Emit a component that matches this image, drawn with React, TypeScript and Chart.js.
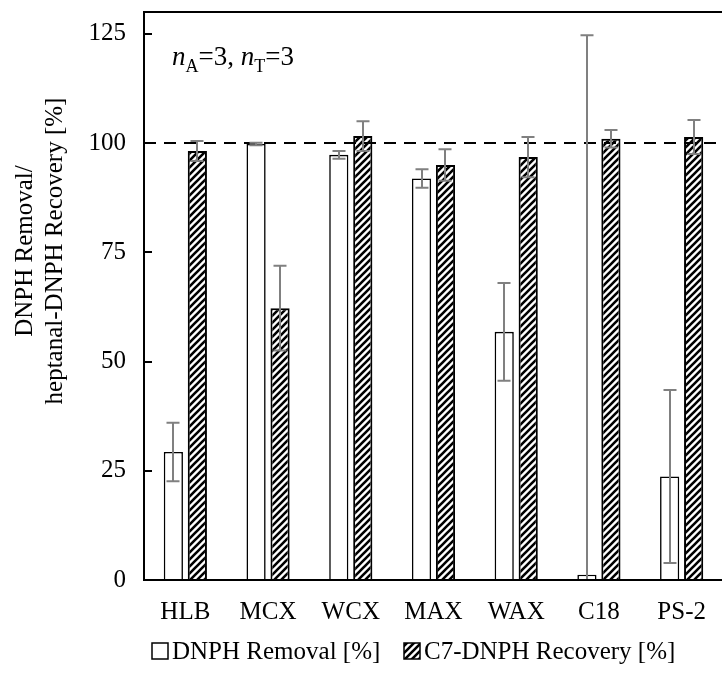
import React, { useEffect, useRef } from "react";
import { Chart, registerables } from "chart.js";

Chart.register(...registerables);

// Sorbent cartridges
const categories = ["HLB", "MCX", "WCX", "MAX", "WAX", "C18", "PS-2"];

// DNPH removal [%] (mean and standard deviation)
const dnphRemoval = [29.3, 99.8, 97.3, 91.9, 56.8, 1.2, 23.7];
const dnphRemovalSd = [6.7, 0.3, 0.9, 2.1, 11.2, 123.5, 19.8];

// heptanal-DNPH (C7-DNPH) recovery [%] (mean and standard deviation)
const c7Recovery = [98.2, 62.2, 101.6, 95.0, 96.8, 101.0, 101.4];
const c7RecoverySd = [2.3, 9.7, 3.4, 3.6, 4.6, 2.0, 3.9];

const yTicks = [0, 25, 50, 75, 100, 125];
const yMax = 130;
const referenceLevel = 100;

const seriesNames = ["DNPH Removal [%]", "C7-DNPH Recovery [%]"];
const yTitleLines = ["DNPH Removal/", "heptanal-DNPH Recovery [%]"];

const SERIF = "'Liberation Serif', 'Times New Roman', serif";
const FONT_SIZE = 25;
const CANVAS_W = 724;
const CANVAS_H = 695;
const PLOT_TOP = 12;
const PLOT_BOTTOM = 580;
const PLOT_LEFT = 144;

function makeHatch(): CanvasPattern | string {
  const size = 7;
  const c = document.createElement("canvas");
  c.width = size;
  c.height = size;
  const g = c.getContext("2d");
  if (!g) return "#000";
  g.fillStyle = "#fff";
  g.fillRect(0, 0, size, size);
  g.strokeStyle = "#000";
  g.lineWidth = 2.6;
  g.beginPath();
  g.moveTo(-1, size + 1);
  g.lineTo(size + 1, -1);
  g.moveTo(-2, 2);
  g.lineTo(2, -2);
  g.moveTo(size - 2, size + 2);
  g.lineTo(size + 2, size - 2);
  g.stroke();
  return g.createPattern(c, "repeat") || "#000";
}

// "nA=3, nT=3" with italic n and subscript letters
function drawAnnotation(ctx: CanvasRenderingContext2D, x: number, y: number) {
  const main = `27px ${SERIF}`;
  const ital = `italic 27px ${SERIF}`;
  const sub = `18px ${SERIF}`;
  const parts: [string, string, number][] = [
    [ital, "n", 0],
    [sub, "A", 7],
    [main, "=3, ", 0],
    [ital, "n", 0],
    [sub, "T", 7],
    [main, "=3", 0],
  ];
  ctx.save();
  ctx.fillStyle = "#000";
  ctx.textBaseline = "alphabetic";
  ctx.textAlign = "left";
  let cx = x;
  for (const [font, text, dy] of parts) {
    ctx.font = font;
    ctx.fillText(text, cx, y + dy);
    cx += ctx.measureText(text).width;
  }
  ctx.restore();
}

const decorPlugin = {
  id: "decor",
  afterDatasetsDraw(chart: any) {
    const { ctx, chartArea: a, scales } = chart;
    const y = scales.y;

    // dashed reference line at 100 %
    ctx.save();
    ctx.strokeStyle = "#000";
    ctx.lineWidth = 2;
    ctx.setLineDash([12, 8]);
    const yRef = y.getPixelForValue(referenceLevel);
    ctx.beginPath();
    ctx.moveTo(a.left, yRef);
    ctx.lineTo(a.right, yRef);
    ctx.stroke();
    ctx.restore();

    // error bars (clipped to the plot area)
    const errors = [dnphRemovalSd, c7RecoverySd];
    const means = [dnphRemoval, c7Recovery];
    ctx.save();
    ctx.beginPath();
    ctx.rect(a.left, a.top, a.right - a.left, a.bottom - a.top);
    ctx.clip();
    ctx.strokeStyle = "#808080";
    ctx.lineWidth = 2;
    const cap = 6.5;
    for (let d = 0; d < 2; d++) {
      const meta = chart.getDatasetMeta(d);
      meta.data.forEach((bar: any, i: number) => {
        const hi = y.getPixelForValue(means[d][i] + errors[d][i]);
        const lo = y.getPixelForValue(means[d][i] - errors[d][i]);
        const x = Math.round(bar.x);
        ctx.beginPath();
        ctx.moveTo(x, hi);
        ctx.lineTo(x, lo);
        ctx.moveTo(x - cap, hi);
        ctx.lineTo(x + cap, hi);
        ctx.moveTo(x - cap, lo);
        ctx.lineTo(x + cap, lo);
        ctx.stroke();
      });
    }
    ctx.restore();

    // plot frame and inward tick marks
    ctx.save();
    ctx.strokeStyle = "#000";
    ctx.lineWidth = 2;
    ctx.strokeRect(a.left, a.top, a.right - a.left, a.bottom - a.top);
    ctx.beginPath();
    for (const t of yTicks) {
      const py = Math.round(y.getPixelForValue(t));
      ctx.moveTo(a.left, py);
      ctx.lineTo(a.left + 8, py);
    }
    ctx.stroke();
    ctx.restore();
  },
  afterDraw(chart: any) {
    const { ctx } = chart;

    drawAnnotation(ctx, 172, 65);

    // y-axis title, two rotated lines
    ctx.save();
    ctx.fillStyle = "#000";
    ctx.font = `${FONT_SIZE}px ${SERIF}`;
    ctx.textAlign = "center";
    ctx.textBaseline = "alphabetic";
    const midY = 251;
    const baselines = [32, 62];
    yTitleLines.forEach((line, i) => {
      ctx.save();
      ctx.translate(baselines[i], midY);
      ctx.rotate(-Math.PI / 2);
      ctx.fillText(line, 0, 0);
      ctx.restore();
    });
    ctx.restore();

    // legend
    ctx.save();
    ctx.font = `${FONT_SIZE}px ${SERIF}`;
    ctx.textAlign = "left";
    ctx.textBaseline = "middle";
    const ly = 651;
    const box = 16;
    const starts = [152, 404];
    const fills = [chart.data.datasets[0].backgroundColor, chart.data.datasets[1].backgroundColor];
    starts.forEach((sx, i) => {
      ctx.fillStyle = fills[i];
      ctx.fillRect(sx, ly - box / 2, box, box);
      ctx.strokeStyle = "#000";
      ctx.lineWidth = 1.5;
      ctx.strokeRect(sx, ly - box / 2, box, box);
      ctx.fillStyle = "#000";
      ctx.fillText(seriesNames[i], sx + box + 4, ly + 1);
    });
    ctx.restore();
  },
};

export default function App() {
  const ref = useRef<HTMLCanvasElement | null>(null);

  useEffect(() => {
    const canvas = ref.current;
    if (!canvas) return;
    const hatch = makeHatch();
    const chart = new Chart(canvas, {
      type: "bar",
      data: {
        labels: categories,
        datasets: [
          {
            label: seriesNames[0],
            data: dnphRemoval,
            backgroundColor: "#ffffff",
            borderColor: "#000000",
            borderWidth: 1.6,
            categoryPercentage: 0.58,
            barPercentage: 0.8,
          },
          {
            label: seriesNames[1],
            data: c7Recovery,
            backgroundColor: hatch as any,
            borderColor: "#000000",
            borderWidth: 2,
            categoryPercentage: 0.58,
            barPercentage: 0.8,
          },
        ],
      },
      options: {
        responsive: false,
        animation: false,
        devicePixelRatio: 1,
        layout: { padding: { top: PLOT_TOP, right: 1, left: 0, bottom: 0 } },
        plugins: {
          legend: { display: false },
          tooltip: { enabled: false },
        },
        scales: {
          x: {
            grid: { display: false },
            border: { display: false },
            ticks: {
              color: "#000",
              font: { family: SERIF, size: FONT_SIZE },
              padding: 9,
              maxRotation: 0,
              autoSkip: false,
            },
            afterFit: (s: any) => {
              s.height = CANVAS_H - PLOT_BOTTOM;
              s.paddingLeft = 0;
              s.paddingRight = 0;
            },
          },
          y: {
            min: 0,
            max: yMax,
            grid: { display: false },
            border: { display: false },
            ticks: {
              color: "#000",
              font: { family: SERIF, size: FONT_SIZE },
              padding: 10,
              stepSize: 25,
            },
            afterBuildTicks: (s: any) => {
              s.ticks = yTicks.map((v) => ({ value: v }));
            },
            afterFit: (s: any) => {
              s.width = PLOT_LEFT;
              s.paddingTop = 0;
              s.paddingBottom = 0;
            },
          },
        },
      },
      plugins: [decorPlugin],
    });
    return () => chart.destroy();
  }, []);

  return (
    <div
      style={{
        position: "fixed",
        left: 0,
        top: 0,
        width: 722,
        height: 695,
        overflow: "hidden",
        background: "#fff",
      }}
    >
      <canvas
        ref={ref}
        width={CANVAS_W}
        height={CANVAS_H}
        style={{ display: "block", width: CANVAS_W, height: CANVAS_H }}
      />
    </div>
  );
}
